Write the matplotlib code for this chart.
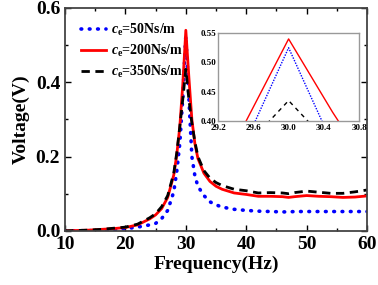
import matplotlib
matplotlib.use("Agg")
import matplotlib.pyplot as plt
from matplotlib.ticker import MultipleLocator

plt.rcParams['font.family'] = ['Liberation Serif', 'DejaVu Serif']
plt.rcParams['font.weight'] = 'bold'
plt.rcParams['mathtext.fontset'] = 'custom'
plt.rcParams['mathtext.rm'] = 'Liberation Serif:bold'
plt.rcParams['mathtext.it'] = 'Liberation Serif:italic:bold'

# frequencies (Hz)
freq = [10, 12, 14, 16, 18, 20, 22, 24, 25, 26, 27, 28, 28.5, 29, 29.5, 30,
        30.5, 31, 31.5, 32, 33, 34, 35, 36, 38, 40, 42, 44, 46, 47, 48, 50,
        52, 54, 56, 58, 60]

# voltage (V) for each damping value
v_50 = [0.0, 0.0002, 0.0005, 0.001, 0.003, 0.006, 0.010, 0.016, 0.020, 0.033,
        0.055, 0.105, 0.16, 0.235, 0.36, 0.525,
        0.36, 0.20, 0.148, 0.12, 0.095, 0.078, 0.070, 0.064, 0.058, 0.055,
        0.053, 0.052, 0.051, 0.051, 0.052, 0.052, 0.052, 0.052, 0.052, 0.052, 0.052]
v_200 = [0.0, 0.001, 0.002, 0.004, 0.006, 0.009, 0.016, 0.032, 0.043, 0.06,
         0.09, 0.15, 0.205, 0.28, 0.395, 0.54,
         0.415, 0.30, 0.235, 0.195, 0.155, 0.133, 0.12, 0.112, 0.102, 0.098,
         0.093, 0.093, 0.092, 0.090, 0.092, 0.095, 0.093, 0.092, 0.090, 0.091, 0.094]
v_350 = [0.0, 0.001, 0.002, 0.004, 0.007, 0.010, 0.018, 0.035, 0.046, 0.065,
         0.095, 0.155, 0.21, 0.28, 0.355, 0.435,
         0.355, 0.29, 0.24, 0.20, 0.162, 0.142, 0.13, 0.122, 0.112, 0.108,
         0.102, 0.103, 0.102, 0.100, 0.103, 0.107, 0.104, 0.101, 0.101, 0.105, 0.110]

labels = [r'$\mathit{c}_\mathrm{e}$=50Ns/m',
          r'$\mathit{c}_\mathrm{e}$=200Ns/m',
          r'$\mathit{c}_\mathrm{e}$=350Ns/m']

fig = plt.figure(figsize=(3.78, 2.85), dpi=100)
ax = fig.add_axes([0.172, 0.19, 0.799, 0.782])

ax.plot(freq, v_50, color='#0000ff', ls=(0, (0.2, 2.1)), lw=2.6,
        dash_capstyle='round', label=labels[0])
ax.plot(freq, v_200, color='#ff0000', ls='-', lw=2.0, label=labels[1])
ax.plot(freq, v_350, color='black', ls=(0, (3, 2)), lw=2.0, label=labels[2])

ax.set_xlim(10, 60)
ax.set_ylim(0, 0.6)
ax.xaxis.set_major_locator(MultipleLocator(10))
ax.xaxis.set_minor_locator(MultipleLocator(5))
ax.yaxis.set_major_locator(MultipleLocator(0.2))
ax.yaxis.set_minor_locator(MultipleLocator(0.1))
ax.tick_params(which='both', direction='in', top=True, right=True, width=1.0,
               labelsize=14)
ax.tick_params(which='major', length=4)
ax.tick_params(which='minor', length=2.5)
ax.set_xticks([10, 20, 30, 40, 50, 60])
ax.set_yticks([0.0, 0.2, 0.4, 0.6])
ax.set_yticklabels(['0.0', '0.2', '0.4', '0.6'])
for s in ax.spines.values():
    s.set_linewidth(1.3)
    s.set_color('#444444')

ax.set_xlabel('Frequency(Hz)', fontsize=14, fontweight='bold', labelpad=2)
ax.set_ylabel('Voltage(V)', fontsize=14, fontweight='bold', labelpad=4)

leg = ax.legend(loc='upper left', frameon=False, fontsize=10, handlelength=1.8,
                handletextpad=0.4, labelspacing=0.35, borderaxespad=0.3,
                bbox_to_anchor=(0.02, 0.98))

# inset zoom on the peak
ins = fig.add_axes([0.577, 0.575, 0.373, 0.309])
ins.plot(freq, v_50, color='#0000ff', ls=(0, (1, 1)), lw=1.0)
ins.plot(freq, v_200, color='#ff0000', ls='-', lw=1.0)
ins.plot(freq, v_350, color='black', ls=(0, (3, 3)), lw=1.0)
ins.set_xlim(29.2, 30.8)
ins.set_ylim(0.40, 0.55)
ins.set_xticks([29.2, 29.6, 30.0, 30.4, 30.8])
ins.set_xticklabels(['29.2', '29.6', '30.0', '30.4', '30.8'])
ins.set_yticks([0.40, 0.45, 0.50, 0.55])
ins.set_yticklabels(['0.40', '0.45', '0.50', '0.55'])
ins.tick_params(direction='in', length=0, labelsize=6.5, pad=1)
ins.tick_params(axis='x', pad=2)
for s in ins.spines.values():
    s.set_linewidth(1.0)
    s.set_color('#999999')

fig.savefig('out.png', dpi=100)
